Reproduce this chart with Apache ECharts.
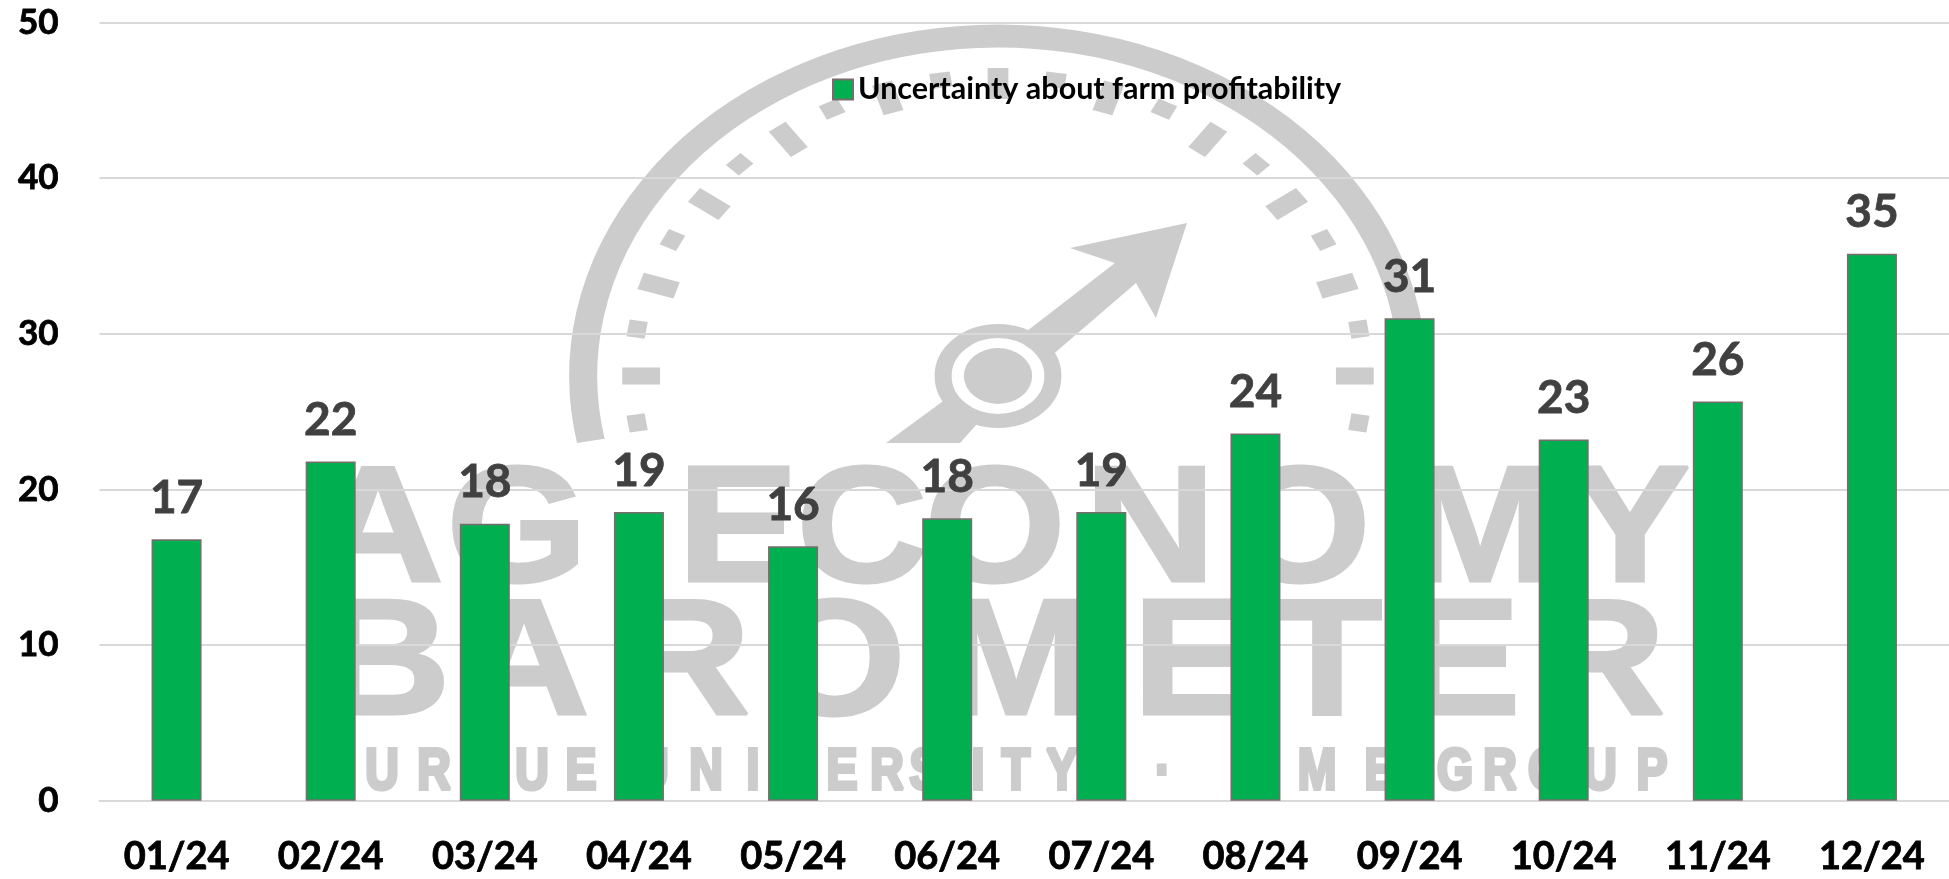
<!DOCTYPE html>
<html>
<head>
<meta charset="utf-8">
<title>Uncertainty about farm profitability</title>
<script src="https://cdn.jsdelivr.net/npm/echarts@6/dist/echarts.min.js"></script>
<style>
    html, body { margin: 0; padding: 0; background: #fff; }
    #chart { width: 1949px; height: 879px; }
</style>
</head>
<body>
<div id="chart"></div>
<script>
const categories = ['01/24', '02/24', '03/24', '04/24', '05/24', '06/24', '07/24', '08/24', '09/24', '10/24', '11/24', '12/24'];
const uncertainty = [16.8, 21.8, 17.8, 18.55, 16.35, 18.15, 18.55, 23.6, 31.0, 23.2, 25.65, 35.15];
const seriesName = 'Uncertainty about farm profitability';
const yTicks = [0, 10, 20, 30, 40, 50];

const FONT = 'Lato, "Open Sans", sans-serif';
const WM = '#cccccc';

// background logo
function gaugeTicks() {
    let out = [];
    for (let i = -1; i <= 21; i++) {
        let deg = 180 + i * 9;
        let rad = deg * Math.PI / 180;
        let big = i % 2 === 0;
        let r0 = big ? 277 : 292;
        let r1 = big ? 308 : 307;
        out.push({
            type: 'line',
            shape: {
                x1: r0 * Math.cos(rad), y1: r0 * Math.sin(rad),
                x2: r1 * Math.cos(rad), y2: r1 * Math.sin(rad)
            },
            style: { stroke: WM, lineWidth: 17 }
        });
    }
    return out;
}

const gauge = {
    type: 'group',
    x: 998,
    y: 376,
    scaleX: 1.22,
    children: [
        {
            type: 'arc',
            shape: { cx: 0, cy: 0, r: 340, startAngle: 169 * Math.PI / 180, endAngle: 371 * Math.PI / 180, clockwise: true },
            style: { stroke: WM, fill: 'none', lineWidth: 23 }
        },
        {
            type: 'circle',
            shape: { cx: 0, cy: 0, r: 45 },
            style: { stroke: WM, fill: '#fff', lineWidth: 14 }
        },
        {
            type: 'circle',
            shape: { cx: 0, cy: 0, r: 28 },
            style: { fill: WM }
        }
    ].concat(gaugeTicks())
};

const needle = {
    type: 'polygon',
    shape: {
        points: [[1187, 223], [1070, 248], [1115, 263], [1018, 338], [1050, 357], [1136, 283], [1156, 318]]
    },
    style: { fill: WM }
};
const needleTail = {
    type: 'polygon',
    shape: { points: [[965, 385], [886, 443], [960, 443], [985, 415]] },
    style: { fill: WM }
};

const line1Letters = 'AGECONOMY'.split('');
const line1X = [378, 517, 738, 862, 995, 1150, 1300, 1480, 1630];
const line2Letters = 'BAROMETER'.split('');
const line2X = [385, 524, 685, 835, 1016, 1193, 1327, 1460, 1600];
const line3Letters = 'PURDUEUNIVERSITY·CMEGROUP'.split('');
const line3X = [330, 382, 434, 485, 532, 581, 652, 706, 753, 791, 842, 887, 925, 978, 1016, 1062, 1163, 1256, 1317, 1380, 1455, 1500, 1546, 1600, 1652];

function letterRow(letters, xs, y, size, scaleX, bold) {
    return letters.map(function (ch, i) {
        return {
            type: 'text',
            x: xs[i],
            y: y,
            scaleX: scaleX,
            style: {
                text: ch,
                font: 'bold ' + size + 'px "Liberation Sans", Arial, sans-serif',
                fill: WM,
                stroke: WM,
                lineWidth: bold,
                textAlign: 'center',
                textVerticalAlign: 'middle'
            }
        };
    });
}

const thick = { textBorderColor: '#000', textBorderWidth: 0.8 };

const chart = echarts.init(document.getElementById('chart'));
chart.setOption({
    animation: false,
    backgroundColor: '#fff',
    graphic: {
        z: -1,
        elements: [needle, needleTail, gauge].concat(
            letterRow(line1Letters, line1X, 535, 165, 1.1, 3),
            letterRow(line2Letters, line2X, 668, 165, 1.1, 3),
            letterRow(line3Letters, line3X, 773, 58, 0.8, 4)
        )
    },
    grid: { left: 99.5, right: -3, top: 22.5, bottom: 78.3 },
    legend: {
        left: 827,
        top: 69,
        icon: 'rect',
        itemWidth: 20,
        itemHeight: 20,
        itemGap: 7,
        data: [seriesName],
        textStyle: { color: '#000', fontFamily: FONT, fontWeight: 'bold', fontSize: 30.5 }
    },
    xAxis: {
        type: 'category',
        data: categories,
        axisTick: { show: false },
        axisLine: { lineStyle: { color: '#d9d9d9', width: 2 } },
        axisLabel: Object.assign({
            interval: 0,
            margin: 37,
            color: '#000',
            fontFamily: FONT,
            fontWeight: 'bold',
            fontSize: 38
        }, thick)
    },
    yAxis: {
        type: 'value',
        min: yTicks[0],
        max: yTicks[yTicks.length - 1],
        interval: 10,
        axisLine: { show: false },
        axisTick: { show: false },
        splitLine: { lineStyle: { color: '#d9d9d9', width: 2 } },
        axisLabel: Object.assign({
            margin: 41,
            color: '#000',
            fontFamily: FONT,
            fontWeight: 'bold',
            fontSize: 35
        }, thick)
    },
    series: [{
        name: seriesName,
        type: 'bar',
        data: uncertainty,
        barWidth: 50,
        z: 5,
        itemStyle: { color: '#00b050', borderColor: '#7a6c6c', borderWidth: 1.5 },
        label: {
            show: true,
            position: 'top',
            distance: 18,
            color: '#404040',
            textBorderColor: '#404040',
            textBorderWidth: 0.8,
            fontFamily: FONT,
            fontWeight: 'bold',
            fontSize: 46,
            formatter: function (p) { return Math.round(p.value); }
        }
    }]
});
</script>
</body>
</html>
